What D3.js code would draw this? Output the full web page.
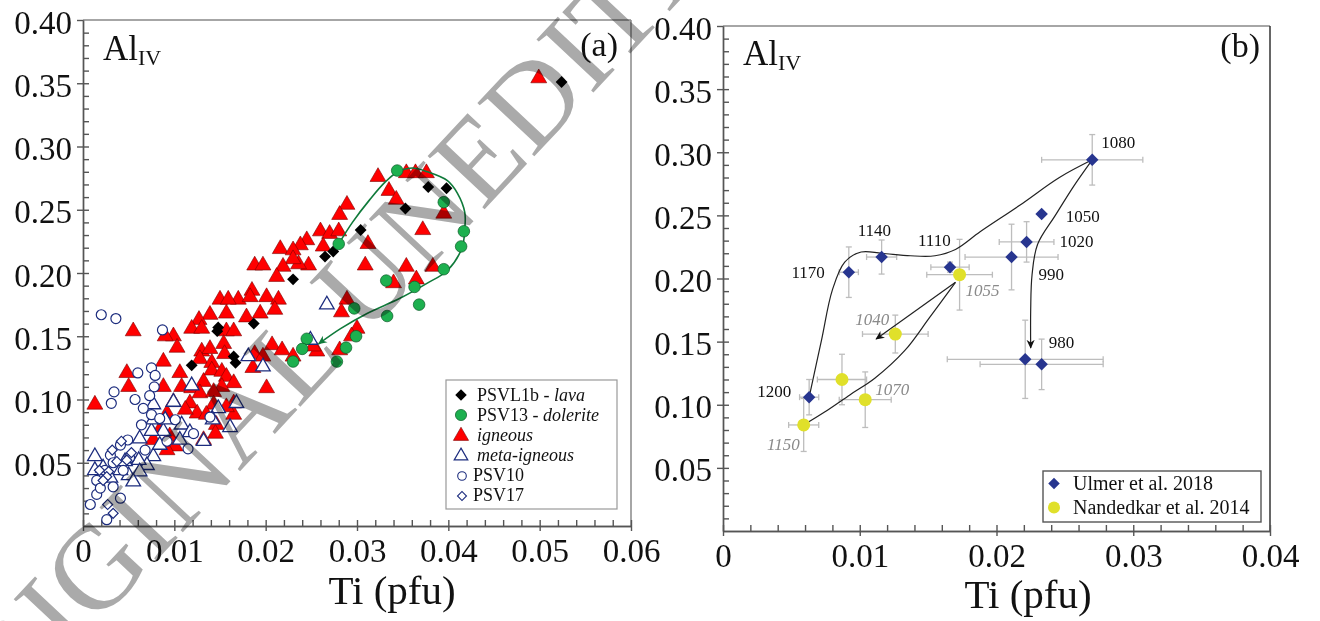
<!DOCTYPE html>
<html>
<head>
<meta charset="utf-8">
<script src="https://cdn.jsdelivr.net/npm/d3@7"></script>
<style>
  html, body { margin: 0; padding: 0; background: #fff; }
  svg { display: block; font-family: "Liberation Serif", "Times New Roman", serif; }
</style>
</head>
<body>
<svg id="chart" width="1320" height="621"></svg>
<script>
// ---------------- data: panel (a) natural amphiboles [Ti pfu, AlIV] ----------------
const psvl1bLava = [
  [0.0524,0.351],[0.0378,0.268],[0.0398,0.267],[0.0353,0.251],[0.0304,0.234],
  [0.0274,0.217],[0.0265,0.213],[0.0230,0.195],[0.0148,0.157],[0.0147,0.154],
  [0.0187,0.160],[0.0165,0.134],[0.0167,0.129],[0.0119,0.127]
];
const psv13Dolerite = [
  [0.0344,0.281],[0.0395,0.256],[0.0417,0.233],[0.0414,0.221],[0.0395,0.203],
  [0.0332,0.194],[0.0363,0.189],[0.0368,0.175],[0.0297,0.172],[0.0333,0.166],
  [0.0280,0.223],[0.0299,0.150],[0.0288,0.141],[0.0278,0.130],[0.0245,0.148],
  [0.0240,0.140],[0.0230,0.130]
];
const igneous = [
  [0.0499,0.354],[0.0323,0.276],[0.0354,0.279],[0.0364,0.279],[0.0376,0.279],
  [0.0335,0.265],[0.0343,0.258],[0.0289,0.254],[0.0281,0.246],[0.0395,0.247],
  [0.0260,0.233],[0.0270,0.231],[0.0280,0.233],[0.0312,0.223],[0.0372,0.234],
  [0.0245,0.226],[0.0238,0.222],[0.0263,0.221],[0.0247,0.206],[0.0236,0.207],
  [0.0309,0.206],[0.0354,0.205],[0.0383,0.205],[0.0340,0.192],[0.0365,0.195],
  [0.0289,0.179],[0.0283,0.169],[0.0300,0.156],[0.0294,0.150],[0.0281,0.139],
  [0.0256,0.138],[0.0252,0.142],[0.0216,0.219],[0.0230,0.218],[0.0230,0.211],
  [0.0219,0.205],[0.0188,0.206],[0.0197,0.206],[0.0212,0.197],[0.0170,0.179],
  [0.0185,0.186],[0.0201,0.181],[0.0214,0.179],[0.0210,0.171],[0.0183,0.181],
  [0.0150,0.179],[0.0159,0.179],[0.0179,0.165],[0.0194,0.168],[0.0157,0.168],
  [0.0139,0.167],[0.0127,0.163],[0.0119,0.156],[0.0130,0.156],[0.0157,0.154],
  [0.0165,0.154],[0.0154,0.144],[0.0130,0.138],[0.0139,0.140],[0.0155,0.136],
  [0.0099,0.150],[0.0090,0.150],[0.0103,0.141],[0.0088,0.130],[0.0048,0.121],
  [0.0050,0.110],[0.0055,0.154],[0.0013,0.096],[0.0188,0.136],[0.0197,0.134],
  [0.0201,0.109],[0.0186,0.125],[0.0207,0.143],[0.0218,0.139],[0.0230,0.134],
  [0.0128,0.132],[0.0141,0.129],[0.0141,0.123],[0.0152,0.122],[0.0157,0.118],
  [0.0165,0.113],[0.0152,0.110],[0.0132,0.114],[0.0106,0.121],[0.0108,0.110],
  [0.0119,0.109],[0.0128,0.105],[0.0143,0.106],[0.0117,0.097],[0.0099,0.098],
  [0.0088,0.110],[0.0143,0.096],[0.0165,0.097],[0.0125,0.089],[0.0112,0.092],
  [0.0092,0.089],[0.0135,0.088],[0.0146,0.080],[0.0145,0.073],[0.0132,0.068],
  [0.0101,0.063],[0.0092,0.060],[0.0095,0.071],[0.0077,0.068],[0.0084,0.076],
  [0.0165,0.088],[0.0157,0.094]
];
const metaIgneous = [
  [0.0267,0.175],[0.0181,0.134],[0.0197,0.126],[0.0119,0.111],[0.0099,0.098],
  [0.0077,0.096],[0.0148,0.093],[0.0168,0.097],[0.0249,0.147],[0.0108,0.080],
  [0.0088,0.075],[0.0075,0.075],[0.0062,0.069],[0.0106,0.068],[0.0132,0.067],
  [0.0161,0.078],[0.0077,0.055],[0.0070,0.048],[0.0061,0.052],[0.0062,0.043],
  [0.0050,0.040],[0.0055,0.035],[0.0013,0.055],[0.0013,0.044],[0.0077,0.084],
  [0.0090,0.084],[0.0041,0.044],[0.0030,0.038],[0.0022,0.046],[0.0046,0.051],
  [0.0084,0.064],[0.0117,0.074],[0.0142,0.084]
];
const psv10 = [
  [0.0020,0.167],[0.0036,0.164],[0.0087,0.155],[0.0060,0.121],[0.0075,0.125],
  [0.0079,0.119],[0.0078,0.110],[0.0034,0.106],[0.0031,0.097],[0.0057,0.100],
  [0.0066,0.093],[0.0064,0.080],[0.0075,0.088],[0.0121,0.073],[0.0139,0.086],
  [0.0115,0.061],[0.0092,0.067],[0.0030,0.056],[0.0033,0.050],[0.0015,0.036],
  [0.0015,0.025],[0.0008,0.017],[0.0041,0.022],[0.0033,0.031],[0.0026,0.005],
  [0.0049,0.068],[0.0041,0.064],[0.0073,0.103],[0.0101,0.084],[0.0019,0.030],
  [0.0044,0.044],[0.0024,0.044],[0.0051,0.054],[0.0068,0.060],[0.0084,0.085]
];
const psv17 = [
  [0.0042,0.067],[0.0028,0.043],[0.0037,0.051],[0.0048,0.052],[0.0026,0.039],
  [0.0033,0.010],[0.0022,0.036],[0.0032,0.060],[0.0053,0.058],[0.0018,0.044],
  [0.0027,0.017]
];
// crystallisation trend of the dolerite (arrowed loop)
const doleriteTrend = [
  [0.0280,0.223],[0.0295,0.240],[0.0314,0.258],[0.0331,0.272],[0.0345,0.280],
  [0.0361,0.283],[0.0377,0.280],[0.0399,0.273],[0.0410,0.263],[0.0418,0.248],
  [0.0418,0.235],[0.0415,0.220],[0.0399,0.202],[0.0377,0.192],[0.0347,0.180],
  [0.0311,0.168],[0.0282,0.156],[0.0258,0.144]
];

// ---------------- data: panel (b) experiments ----------------
const ulmerT     = ["1080","1050","1020","990","1110","1140","1170","1200","","980"];
const ulmerTi    = [0.0270,0.0233,0.0222,0.0211,0.0166,0.0116,0.0092,0.0063,0.0221,0.0233];
const ulmerAl    = [0.294,0.251,0.229,0.217,0.209,0.217,0.205,0.106,0.136,0.132];
const ulmerTiErr = [0.0037,0,0.0020,0.0034,0.0014,0.0011,0.0007,0.0007,0.0057,0.0045];
const ulmerAlErr = [0.020,0,0.016,0.026,0.004,0.0135,0.020,0.014,0.031,0.020];

const nandT     = ["1055","1040","","1070","1150"];
const nandTi    = [0.0173,0.0126,0.0087,0.0104,0.0059];
const nandAl    = [0.203,0.156,0.120,0.104,0.084];
const nandTiErr = [0.0024,0.0024,0.0018,0.0019,0.0011];
const nandAlErr = [0.028,0.015,0.020,0.022,0.021];

// cooling paths drawn through the experiments
const ulmerPathUp = [
  [0.0063,0.106],[0.0072,0.151],[0.0080,0.191],[0.0089,0.213],[0.0101,0.221],
  [0.0116,0.220],[0.0137,0.218],[0.0155,0.218],[0.0170,0.223],[0.0188,0.237],
  [0.0217,0.258],[0.0246,0.280],[0.0270,0.294]
];
const ulmerPathDown = [
  [0.0270,0.294],[0.0257,0.274],[0.0243,0.250],[0.0230,0.227],[0.0226,0.203],
  [0.0225,0.175],[0.0225,0.145]
];
const nandPath = [
  [0.0059,0.084],[0.0074,0.094],[0.0093,0.108],[0.0111,0.121],[0.0133,0.143],
  [0.0151,0.169],[0.0170,0.197]
];
const nandArrow = [[0.0170,0.197],[0.0112,0.152]];

// ---------------- tick labels ----------------
const xTicksA = [0, 0.01, 0.02, 0.03, 0.04, 0.05, 0.06];
const xTicksB = [0, 0.01, 0.02, 0.03, 0.04];
const yTicks  = [0.05, 0.10, 0.15, 0.20, 0.25, 0.30, 0.35, 0.40];
const tickFmt = d => d === 0 ? "0" : d3.format(".2f")(d);

// ---------------- layout ----------------
const svg = d3.select("#chart");
const NAVY = "#1c2c7e";
const SERIF = "Liberation Serif";
const xA = d3.scaleLinear().domain([0, 0.06]).range([83, 631]);
const yA = d3.scaleLinear().domain([0, 0.40]).range([526, 20]);
const xB = d3.scaleLinear().domain([0, 0.04]).range([723, 1270]);
const yB = d3.scaleLinear().domain([0, 0.40]).range([531, 26]);

const defs = svg.append("defs");
function arrowMarker(id, color) {
  defs.append("marker").attr("id", id)
    .attr("viewBox", "0 -5 10 10").attr("refX", 9).attr("refY", 0)
    .attr("markerWidth", 9).attr("markerHeight", 9)
    .attr("markerUnits", "userSpaceOnUse").attr("orient", "auto")
    .append("path").attr("d", "M0,-4.5L10,0L0,4.5L3,0Z").attr("fill", color);
}
arrowMarker("arrBlack", "#111");
arrowMarker("arrGreen", "#0f7a3a");

function drawFrame(x, y, xTicks, xMinor, rightColor) {
  const g = svg.append("g");
  const [x0, x1] = x.range(), [y0, y1] = y.range();
  const minorX = d3.range(0, x.domain()[1] + 1e-9, xMinor).map(v => +v.toFixed(4));
  const minorY = d3.range(0.01, 0.40, 0.01).map(v => +v.toFixed(3));
  // frame top and right
  g.append("line").attr("x1", x0).attr("x2", x1).attr("y1", y1).attr("y2", y1)
    .attr("stroke", "#888").attr("stroke-width", 1.5);
  g.append("line").attr("x1", x1).attr("x2", x1).attr("y1", y1).attr("y2", y0)
    .attr("stroke", rightColor).attr("stroke-width", 1.5);

  // x axis: outward major ticks with labels, inward minor+major ticks
  const gx = g.append("g").attr("transform", `translate(0,${y0})`);
  gx.append("g").call(d3.axisBottom(x).tickValues(minorX).tickSize(-6).tickSizeOuter(0).tickFormat(""));
  const gxl = gx.append("g").call(d3.axisBottom(x).tickValues(xTicks).tickSize(5).tickSizeOuter(0).tickFormat(tickFmt));
  gxl.selectAll("text").attr("y", 36).attr("dy", null)
    .attr("font-size", 33).attr("fill", "#111").attr("font-family", SERIF);
  // y axis
  const gy = g.append("g").attr("transform", `translate(${x0},0)`);
  gy.append("g").call(d3.axisLeft(y).tickValues(minorY).tickSize(-6).tickSizeOuter(0).tickFormat(""));
  const gyl = gy.append("g").call(d3.axisLeft(y).tickValues(yTicks).tickSize(6).tickSizeOuter(0).tickFormat(tickFmt));
  gyl.selectAll("text").attr("x", -11).attr("dy", null).attr("y", 13)
    .attr("font-size", 33).attr("fill", "#111").attr("font-family", SERIF);
  g.selectAll(".domain, .tick line").attr("stroke", "#555").attr("stroke-width", 1.4);
  return g;
}

function labels(cxTitle, titleY, alX, alY, tag, tagX, tagY) {
  svg.append("text").attr("x", cxTitle).attr("y", titleY).attr("text-anchor", "middle")
    .attr("font-size", 41).attr("fill", "#111").text("Ti (pfu)");
  const t = svg.append("text").attr("x", alX).attr("y", alY).attr("font-size", 35).attr("fill", "#111");
  t.append("tspan").text("Al");
  t.append("tspan").attr("font-size", 22).attr("dy", 5).text("IV");
  svg.append("text").attr("x", tagX).attr("y", tagY).attr("text-anchor", "end")
    .attr("font-size", 34).attr("fill", "#111").text(tag);
}

// ---------------- panel (a) ----------------
drawFrame(xA, yA, xTicksA, 0.002, "#888");
labels(392, 604, 103, 60, "(a)", 618, 56);

const sym = (type, size) => d3.symbol().type(type).size(size)();
const gA = svg.append("g");

gA.selectAll(".ign").data(igneous).join("path")
  .attr("d", sym(d3.symbolTriangle, 110))
  .attr("transform", d => `translate(${xA(d[0])},${yA(d[1])})`)
  .attr("fill", "#ff0000").attr("stroke", "#7a0000").attr("stroke-width", 0.6);

gA.selectAll(".meta").data(metaIgneous).join("path")
  .attr("d", sym(d3.symbolTriangle, 92))
  .attr("transform", d => `translate(${xA(d[0])},${yA(d[1])})`)
  .attr("fill", "#fff").attr("stroke", NAVY).attr("stroke-width", 1.3);

gA.selectAll(".p10").data(psv10).join("circle")
  .attr("cx", d => xA(d[0])).attr("cy", d => yA(d[1])).attr("r", 5)
  .attr("fill", "#fff").attr("stroke", NAVY).attr("stroke-width", 1.2);

gA.selectAll(".p17").data(psv17).join("path")
  .attr("d", sym(d3.symbolSquare, 50))
  .attr("transform", d => `translate(${xA(d[0])},${yA(d[1])}) rotate(45)`)
  .attr("fill", "#fff").attr("stroke", NAVY).attr("stroke-width", 1.2);

gA.selectAll(".lava").data(psvl1bLava).join("path")
  .attr("d", sym(d3.symbolSquare, 70))
  .attr("transform", d => `translate(${xA(d[0])},${yA(d[1])}) rotate(45)`)
  .attr("fill", "#000");

gA.append("path").datum(doleriteTrend)
  .attr("d", d3.line().x(d => xA(d[0])).y(d => yA(d[1])).curve(d3.curveCatmullRom.alpha(0.5)))
  .attr("fill", "none").attr("stroke", "#0f7a3a").attr("stroke-width", 1.6)
  .attr("marker-end", "url(#arrGreen)");

gA.selectAll(".dol").data(psv13Dolerite).join("circle")
  .attr("cx", d => xA(d[0])).attr("cy", d => yA(d[1])).attr("r", 5.8)
  .attr("fill", "#1db04f").attr("stroke", "#0b5a28").attr("stroke-width", 0.7);

// legend (a)
const legA = svg.append("g").attr("transform", "translate(446,380)");
legA.append("rect").attr("width", 171).attr("height", 129)
  .attr("fill", "#fff").attr("stroke", "#999").attr("stroke-width", 1.2);
const legAItems = [
  { plain: "PSVL1b - ", ital: "lava", mark: "lava" },
  { plain: "PSV13 - ", ital: "dolerite", mark: "dol" },
  { plain: "", ital: "igneous", mark: "ign" },
  { plain: "", ital: "meta-igneous", mark: "meta" },
  { plain: "PSV10", ital: "", mark: "p10" },
  { plain: "PSV17", ital: "", mark: "p17" }
];
legAItems.forEach((it, i) => {
  const cy = 15 + i * 20;
  const small = it.mark === "p10" || it.mark === "p17";
  const mx = small ? 16 : 15;
  if (it.mark === "lava") legA.append("path").attr("d", sym(d3.symbolSquare, 66)).attr("transform", `translate(${mx},${cy}) rotate(45)`).attr("fill", "#000");
  if (it.mark === "dol") legA.append("circle").attr("cx", mx).attr("cy", cy).attr("r", 5.6).attr("fill", "#1db04f").attr("stroke", "#0b5a28").attr("stroke-width", 0.7);
  if (it.mark === "ign") legA.append("path").attr("d", sym(d3.symbolTriangle, 100)).attr("transform", `translate(${mx},${cy + 1})`).attr("fill", "#ff0000").attr("stroke", "#7a0000").attr("stroke-width", 0.6);
  if (it.mark === "meta") legA.append("path").attr("d", sym(d3.symbolTriangle, 80)).attr("transform", `translate(${mx},${cy + 1})`).attr("fill", "#fff").attr("stroke", NAVY).attr("stroke-width", 1.2);
  if (it.mark === "p10") legA.append("circle").attr("cx", mx).attr("cy", cy + 1).attr("r", 4.3).attr("fill", "#fff").attr("stroke", NAVY).attr("stroke-width", 1.1);
  if (it.mark === "p17") legA.append("path").attr("d", sym(d3.symbolSquare, 40)).attr("transform", `translate(${mx},${cy + 1}) rotate(45)`).attr("fill", "#fff").attr("stroke", NAVY).attr("stroke-width", 1.1);
  const t = legA.append("text").attr("x", small ? 27 : 31).attr("y", cy + 6).attr("font-size", 18).attr("fill", "#111");
  if (it.plain) t.append("tspan").text(it.plain);
  if (it.ital) t.append("tspan").attr("font-style", "italic").text(it.ital);
});

// ---------------- panel (b) ----------------
drawFrame(xB, yB, xTicksB, 0.002, "#333");
labels(1028, 608, 743, 65, "(b)", 1260, 57);

const gB = svg.append("g");
const line = (x, y) => d3.line().x(d => x(d[0])).y(d => y(d[1]));

function errorBars(ti, al, tiErr, alErr) {
  const cap = 3;
  ti.forEach((t, i) => {
    const cx = xB(t), cy = yB(al[i]);
    const eb = gB.append("g").attr("stroke", "#bdbdbd").attr("stroke-width", 1.3);
    if (tiErr[i] > 0) {
      const xl = xB(t - tiErr[i]), xr = xB(t + tiErr[i]);
      eb.append("line").attr("x1", xl).attr("x2", xr).attr("y1", cy).attr("y2", cy);
      eb.append("line").attr("x1", xl).attr("x2", xl).attr("y1", cy - cap).attr("y2", cy + cap);
      eb.append("line").attr("x1", xr).attr("x2", xr).attr("y1", cy - cap).attr("y2", cy + cap);
    }
    if (alErr[i] > 0) {
      const yt = yB(al[i] + alErr[i]), yb = yB(al[i] - alErr[i]);
      eb.append("line").attr("x1", cx).attr("x2", cx).attr("y1", yt).attr("y2", yb);
      eb.append("line").attr("x1", cx - cap).attr("x2", cx + cap).attr("y1", yt).attr("y2", yt);
      eb.append("line").attr("x1", cx - cap).attr("x2", cx + cap).attr("y1", yb).attr("y2", yb);
    }
  });
}
errorBars(nandTi, nandAl, nandTiErr, nandAlErr);
errorBars(ulmerTi, ulmerAl, ulmerTiErr, ulmerAlErr);

const smooth = d3.curveCatmullRom.alpha(0.5);
gB.append("path").datum(ulmerPathUp).attr("d", line(xB, yB).curve(smooth))
  .attr("fill", "none").attr("stroke", "#222").attr("stroke-width", 1.2);
gB.append("path").datum(ulmerPathDown).attr("d", line(xB, yB).curve(smooth))
  .attr("fill", "none").attr("stroke", "#222").attr("stroke-width", 1.2).attr("marker-end", "url(#arrBlack)");
gB.append("path").datum(nandPath).attr("d", line(xB, yB).curve(smooth))
  .attr("fill", "none").attr("stroke", "#222").attr("stroke-width", 1.2);
gB.append("path").datum(nandArrow).attr("d", line(xB, yB))
  .attr("fill", "none").attr("stroke", "#222").attr("stroke-width", 1.2).attr("marker-end", "url(#arrBlack)");

const ulmerPts = ulmerTi.map((t, i) => ({ x: t, y: ulmerAl[i], T: ulmerT[i] }));
const nandPts = nandTi.map((t, i) => ({ x: t, y: nandAl[i], T: nandT[i] }));

gB.selectAll(".nand").data(nandPts).join("circle")
  .attr("cx", d => xB(d.x)).attr("cy", d => yB(d.y)).attr("r", 6.5).attr("fill", "#e0e02a");
gB.selectAll(".ulm").data(ulmerPts).join("path")
  .attr("d", sym(d3.symbolSquare, 78))
  .attr("transform", d => `translate(${xB(d.x)},${yB(d.y)}) rotate(45)`)
  .attr("fill", "#27358f");

// temperature labels (°C), offsets in pixels from each point
const labelOffset = {
  "1080": [9, -12, "start"], "1050": [24, 8, "start"], "1020": [33, 5, "start"],
  "990": [27, 23, "start"], "1110": [-32, -21, "start"], "1140": [-24, -21, "start"],
  "1170": [-24, 6, "end"], "1200": [-18, 0, "end"], "980": [7, -16, "start"],
  "1055": [6, 21, "start"], "1040": [-6, -9, "end"], "1070": [10, -5, "start"],
  "1150": [-4, 25, "end"]
};
function tempLabels(pts, color, italic) {
  gB.selectAll(null).data(pts.filter(d => d.T)).join("text")
    .attr("x", d => xB(d.x) + labelOffset[d.T][0])
    .attr("y", d => yB(d.y) + labelOffset[d.T][1])
    .attr("text-anchor", d => labelOffset[d.T][2])
    .attr("font-size", 17).attr("fill", color)
    .attr("font-style", italic ? "italic" : "normal")
    .text(d => d.T);
}
tempLabels(ulmerPts, "#111", false);
tempLabels(nandPts, "#8a8a8a", true);

// legend (b)
const legB = svg.append("g").attr("transform", "translate(1043,471)");
legB.append("rect").attr("width", 218).attr("height", 51)
  .attr("fill", "#fff").attr("stroke", "#555").attr("stroke-width", 1.4);
legB.append("path").attr("d", sym(d3.symbolSquare, 66)).attr("transform", "translate(11,12.5) rotate(45)").attr("fill", "#27358f");
legB.append("circle").attr("cx", 11).attr("cy", 36.5).attr("r", 6).attr("fill", "#e0e02a");
legB.append("text").attr("x", 30).attr("y", 19).attr("font-size", 20).attr("fill", "#111").text("Ulmer et al. 2018");
legB.append("text").attr("x", 30).attr("y", 43).attr("font-size", 20).attr("fill", "#111").text("Nandedkar et al. 2014");

// ---------------- diagonal manuscript stamp ----------------
const stamp = svg.append("text")
  .attr("font-size", 118).attr("fill", "#aaaaaa")
  .style("mix-blend-mode", "multiply")
  .text("ORIGINAL UNEDITED MANUSCRIPT");
const txt = stamp.node().textContent;
const gi = txt.indexOf("G"), ei = txt.indexOf("UNE") + 2;
const eg = stamp.node().getExtentOfChar(gi), ee = stamp.node().getExtentOfChar(ei);
const cG = [eg.x + eg.width / 2, eg.y + eg.height / 2];
const cE = [ee.x + ee.width / 2, ee.y + ee.height / 2];
const target = [[95, 568], [478, 158]];
const ang = Math.atan2(target[1][1] - target[0][1], target[1][0] - target[0][0]) * 180 / Math.PI;
const scl = Math.hypot(target[1][0] - target[0][0], target[1][1] - target[0][1]) / Math.hypot(cE[0] - cG[0], cE[1] - cG[1]);
stamp.attr("transform", `translate(${target[0][0]},${target[0][1]}) rotate(${ang}) scale(${scl}) translate(${-cG[0]},${-cG[1]})`);
</script>
</body>
</html>
